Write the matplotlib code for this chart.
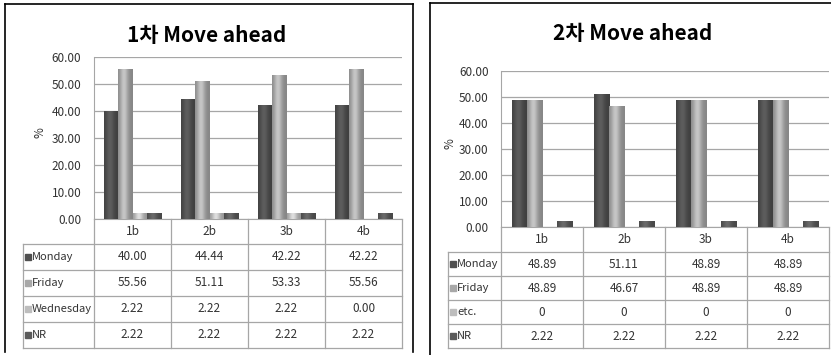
import numpy as np
import matplotlib.pyplot as plt
import matplotlib.colors as mcolors
from matplotlib.lines import Line2D
from matplotlib.transforms import blended_transform_factory

plt.rcParams['font.family'] = ['Noto Sans CJK KR', 'DejaVu Sans']

categories = ['1b', '2b', '3b', '4b']

# 1차
series_1 = ['Monday', 'Friday', 'Wednesday', 'NR']
monday_1 = [40.00, 44.44, 42.22, 42.22]
friday_1 = [55.56, 51.11, 53.33, 55.56]
wednesday_1 = [2.22, 2.22, 2.22, 0.00]
nr_1 = [2.22, 2.22, 2.22, 2.22]

# 2차
series_2 = ['Monday', 'Friday', 'etc.', 'NR']
monday_2 = [48.89, 51.11, 48.89, 48.89]
friday_2 = [48.89, 46.67, 48.89, 48.89]
etc_2 = [0, 0, 0, 0]
nr_2 = [2.22, 2.22, 2.22, 2.22]

bar_colors = ['#4f4f4f', '#a8a8a8', '#bdbdbd', '#5a5a5a']
grid_c = '#a6a6a6'
text_c = '#333333'

W, H = 831, 355
fig = plt.figure(figsize=(W / 100, H / 100), dpi=100)


def fx(x):
    return x / W


def fy(y):
    return 1 - y / H


def shade(color, n=40):
    # soft cylinder-like shading across the bar
    rgb = np.array(mcolors.to_rgb(color))
    t = np.linspace(0, 1, n)
    f = 0.8 + 0.38 * np.exp(-((t - 0.4) / 0.28) ** 2)
    return np.clip(rgb[None, :] * f[:, None], 0, 1)[None, :, :]


def gradient_bars(ax, x, heights, width, color):
    bars = ax.bar(x, heights, width, color=color, edgecolor='none', zorder=3)
    img = shade(color)
    for b in bars:
        h = b.get_height()
        if h <= 0:
            continue
        x0 = b.get_x()
        im = ax.imshow(img, extent=[x0, x0 + b.get_width(), 0, h],
                       aspect='auto', zorder=4, interpolation='bilinear')
        im.set_clip_path(b)


def panel(box, title, title_xy, series, values, fmt, label_left, head_h, row_h, ylab_x):
    x0, y0, x1, y1 = box
    ax = fig.add_axes([fx(x0), fy(y1), fx(x1 - x0), (y1 - y0) / H])
    ax_h = y1 - y0
    ax_w = x1 - x0
    x = np.arange(len(categories))
    width = 0.185
    offsets = (np.arange(len(series)) - 1.5) * width
    for vals, off, c in zip(values, offsets, bar_colors):
        gradient_bars(ax, x + off, vals, width, c)
    ax.set_xlim(-0.5, len(categories) - 0.5)
    ax.set_ylim(0, 60)
    ax.set_yticks(np.arange(0, 61, 10))
    ax.set_yticklabels([f'{v:.2f}' for v in np.arange(0, 61, 10)], fontsize=8.5, color=text_c)
    ax.set_xticks([])
    ax.tick_params(axis='y', length=0, pad=9)
    ax.yaxis.grid(True, color=grid_c, linewidth=0.9)
    ax.set_axisbelow(True)
    for s in ['top', 'right']:
        ax.spines[s].set_visible(False)
    ax.spines['left'].set_color(grid_c)
    ax.spines['bottom'].set_color(grid_c)

    fig.text(fx(ylab_x), fy((y0 + y1) / 2 - 5), '%', rotation=90, fontsize=8.5,
             color=text_c, ha='center', va='center')
    fig.text(fx(title_xy[0]), fy(title_xy[1]), title, fontsize=15, fontweight='bold',
             ha='center', va='center', color='black')

    # data table under the axis
    tr = blended_transform_factory(ax.transData, ax.transAxes)
    lw = 0.9
    head_b = -head_h / ax_h
    bottom = -(head_h + row_h * len(series)) / ax_h
    lab_l = (label_left - x0) / ax_w
    for b in np.arange(-0.5, len(categories), 1.0):
        ax.add_line(Line2D([b, b], [0, bottom], transform=tr, color=grid_c, lw=lw, clip_on=False))
    ax.add_line(Line2D([lab_l, lab_l], [head_b, bottom], transform=ax.transAxes,
                       color=grid_c, lw=lw, clip_on=False))
    for i in range(len(series) + 1):
        yy = head_b - i * row_h / ax_h
        ax.add_line(Line2D([lab_l, 1], [yy, yy], transform=ax.transAxes,
                           color=grid_c, lw=lw, clip_on=False))
    for c, cat in zip(x, categories):
        ax.text(c, head_b / 2, cat, transform=tr, ha='center', va='center',
                fontsize=8.5, color=text_c, clip_on=False)
    for i, (name, vals, col) in enumerate(zip(series, values, bar_colors)):
        yc = head_b - (i + 0.5) * row_h / ax_h
        ax.plot([lab_l + 5 / ax_w], [yc], marker='s', markersize=5, color=col,
                transform=ax.transAxes, clip_on=False)
        ax.text(lab_l + 9 / ax_w, yc, name, transform=ax.transAxes, ha='left',
                va='center', fontsize=8, color=text_c, clip_on=False)
        for c, v in zip(x, vals):
            ax.text(c, yc, fmt(v), transform=tr, ha='center', va='center',
                    fontsize=8.5, color=text_c, clip_on=False)
    return ax


panel((94, 57, 402, 219), '1차 Move ahead', (207, 35), series_1,
      [monday_1, friday_1, wednesday_1, nr_1], lambda v: f'{v:.2f}',
      23, 25, 26, 40)
panel((501, 71, 829, 227), '2차 Move ahead', (633, 33), series_2,
      [monday_2, friday_2, etc_2, nr_2], lambda v: f'{v:g}',
      448, 25, 24, 450)

# panel frames
frame = dict(color='black', lw=1.2)
fig.add_artist(Line2D([fx(5), fx(5)], [fy(352), fy(4)], **frame))
fig.add_artist(Line2D([fx(5), fx(413)], [fy(4), fy(4)], **frame))
fig.add_artist(Line2D([fx(413), fx(413)], [fy(4), fy(352)], **frame))
fig.add_artist(Line2D([fx(430), fx(430)], [fy(355), fy(3)], **frame))
fig.add_artist(Line2D([fx(430), fx(831)], [fy(3), fy(3)], **frame))

fig.savefig('out.png', dpi=100, facecolor='white')
